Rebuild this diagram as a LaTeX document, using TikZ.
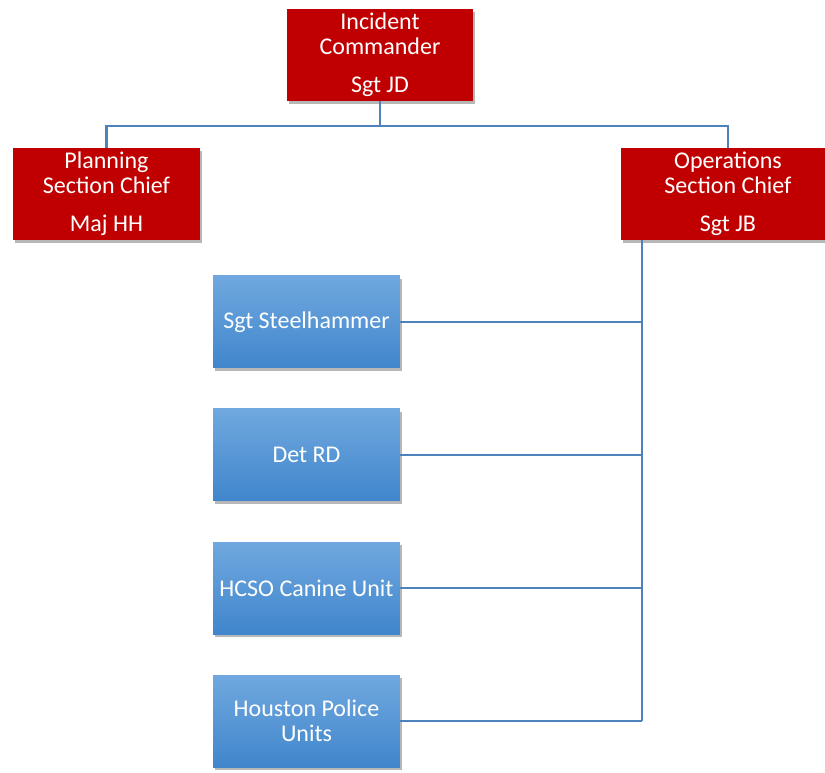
\documentclass[tikz,border=0pt]{standalone}
\usepackage{fontspec}
\setmainfont{Carlito}
\usetikzlibrary{shadows}
\definecolor{boxred}{RGB}{192,0,0}
\definecolor{linkblue}{RGB}{79,129,189}
\definecolor{bluetop}{RGB}{112,168,223}
\definecolor{bluebot}{RGB}{64,134,204}
\begin{document}
\begin{tikzpicture}[x=0.75pt,y=-0.75pt,
  base/.style={rectangle, inner sep=0pt, text=white, align=center,
    font=\fontsize{18}{18.75}\selectfont, minimum height=69pt,
    drop shadow={shadow xshift=1.5pt, shadow yshift=-2pt, opacity=0.4, fill=black!70}},
  redbox/.style={base, fill=boxred, minimum width=140pt},
  bluebox/.style={base, top color=bluetop, bottom color=bluebot, minimum width=140pt},
  link/.style={draw=linkblue, line width=1.6pt}]
\useasboundingbox (0,0) rectangle (825,773);
\fill[white] (0,0) rectangle (825,773);
\node[redbox] (ic) at (380,55) {Incident\\Commander\\[10pt]Sgt JD};
\node[redbox] (plan) at (106.5,194) {Planning\\Section Chief\\[10pt]Maj HH};
\node[redbox, minimum width=160.5pt] (ops) at (728,194) {Operations\\Section Chief\\[10pt]Sgt JB};
\node[bluebox] (s1) at (306.5,322) {Sgt Steelhammer};
\node[bluebox] (s2) at (306.5,455) {Det RD};
\node[bluebox] (s3) at (306.5,588) {HCSO Canine Unit};
\node[bluebox] (s4) at (306.5,721) {Houston Police\\Units};
\coordinate (bus) at (380,126);
\coordinate (trunk) at (642,0);
\draw[link] (ic.south) -- (bus);
\draw[link] (plan.north) |- (bus) -| (ops.north);
\draw[link] (ops.south -| trunk) -- (s4.east -| trunk);
\draw[link] (s1.east) -- (s1.east -| trunk);
\draw[link] (s2.east) -- (s2.east -| trunk);
\draw[link] (s3.east) -- (s3.east -| trunk);
\draw[link] (s4.east) -- (s4.east -| trunk);
\end{tikzpicture}
\end{document}
